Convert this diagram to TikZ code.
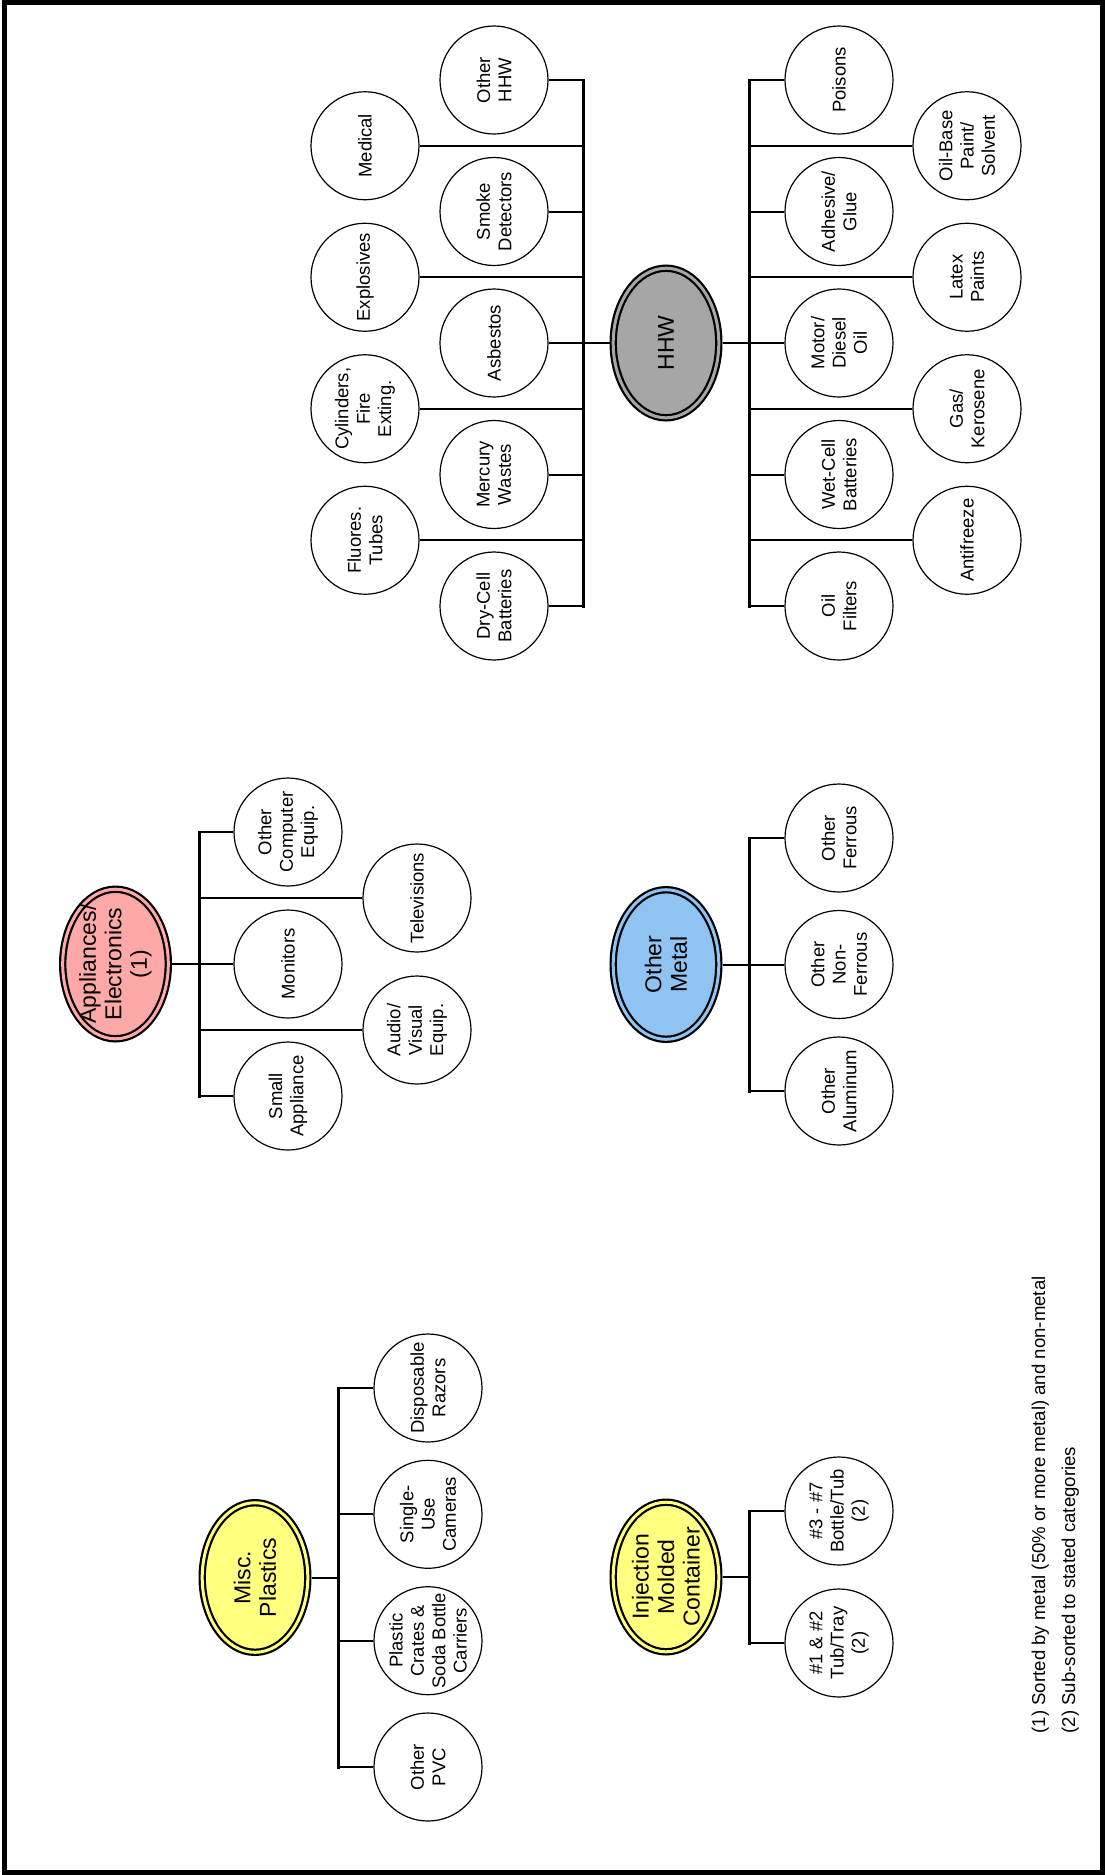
\documentclass[tikz,border=0pt]{standalone}
\usepackage{fontspec}
\setmainfont{Liberation Sans}
\usetikzlibrary{shapes.geometric}

\definecolor{hhwgray}{HTML}{A6A6A6}
\definecolor{apppink}{HTML}{FFA8A8}
\definecolor{metalblue}{HTML}{8EC3F2}
\definecolor{plastyellow}{HTML}{FFFF80}

\begin{document}
\begin{tikzpicture}[x=1pt,y=-1pt,
  item/.style={circle, draw, line width=1.2pt, fill=white, minimum size=108pt,
    inner sep=-20pt, rotate=90, align=center, font=\fontsize{18.5}{21.3}\selectfont},
  catnode/.style={ellipse, draw, line width=2.2pt, double=#1, double distance=3pt,
    fill=#1, minimum width=149.6pt, minimum height=105.6pt, inner sep=-20pt,
    outer sep=3.7pt, rotate=90, align=center, font=\fontsize{23}{25.5}\selectfont},
  branch/.style={line width=2pt},
  trunk/.style={line width=3pt, line cap=rect},
  note/.style={rotate=90, anchor=base west, inner sep=0pt, font=\fontsize{18.6}{22}\selectfont},
]
\useasboundingbox (0,0) rectangle (1105,1875);
\draw[line width=5pt] (4,2.5) rectangle (1102.5,1872.5);

% ---------------- Household hazardous waste ----------------
\node[catnode=hhwgray] (hhw) at (666,343) {HHW};

\node[item] (oth) at (494,80)     {Other\\HHW};
\node[item] (med) at (365,145.75) {Medical};
\node[item] (smk) at (494,211.5)  {Smoke\\Detectors};
\node[item] (exp) at (365,277.25) {Explosives};
\node[item] (asb) at (494,343)    {Asbestos};
\node[item] (cyl) at (365,408.75) {Cylinders,\\Fire\\Exting.};
\node[item] (mer) at (494,474.5)  {Mercury\\Wastes};
\node[item] (flu) at (365,540.25) {Fluores.\\Tubes};
\node[item] (dry) at (494,606)    {Dry-Cell\\Batteries};

\node[item] (poi) at (839,80)     {Poisons};
\node[item] (obp) at (967,145.75) {Oil-Base\\Paint/\\Solvent};
\node[item] (adh) at (839,211.5)  {Adhesive/\\Glue};
\node[item] (lat) at (967,277.25) {Latex\\Paints};
\node[item] (mot) at (839,343)    {Motor/\\Diesel\\Oil};
\node[item] (gas) at (967,408.75) {Gas/\\Kerosene};
\node[item] (wet) at (839,474.5)  {Wet-Cell\\Batteries};
\node[item] (ant) at (967,540.25) {Antifreeze};
\node[item] (oil) at (839,606)    {Oil\\Filters};

\foreach \n/\y in {0/80,1/145.75,2/211.5,3/277.25,4/343,5/408.75,6/474.5,7/540.25,8/606}{
  \coordinate (hL\n) at (583,\y);
  \coordinate (hR\n) at (749,\y);
}
\draw[trunk] (hL0) -- (hL8);
\draw[trunk] (hR0) -- (hR8);
\draw[branch] (hhw) -- (hL4);
\draw[branch] (hhw) -- (hR4);
\foreach \n/\t in {0/oth,1/med,2/smk,3/exp,4/asb,5/cyl,6/mer,7/flu,8/dry}
  \draw[branch] (hL\n) -- (\t);
\foreach \n/\t in {0/poi,1/obp,2/adh,3/lat,4/mot,5/gas,6/wet,7/ant,8/oil}
  \draw[branch] (hR\n) -- (\t);

% ---------------- Appliances / electronics ----------------
\node[catnode=apppink] (app) at (115.5,964) {Appliances/\\Electronics\\(1)};
\node[item] (ocp) at (288,832)  {Other\\Computer\\Equip.};
\node[item] (tv)  at (417,898)  {Televisions};
\node[item] (mon) at (288,964)  {Monitors};
\node[item] (av)  at (417,1030) {Audio/\\Visual\\Equip.};
\node[item] (sma) at (288,1096) {Small\\Appliance};
\foreach \n/\y in {0/832,1/898,2/964,3/1030,4/1096}
  \coordinate (a\n) at (199,\y);
\draw[trunk] (a0) -- (a4);
\draw[branch] (app) -- (a2);
\foreach \n/\t in {0/ocp,1/tv,2/mon,3/av,4/sma}
  \draw[branch] (a\n) -- (\t);

% ---------------- Other metal ----------------
\node[catnode=metalblue] (met) at (666,964.5) {Other\\Metal};
\node[item] (ofe) at (839,838)   {Other\\Ferrous};
\node[item] (onf) at (839,964.5) {Other\\Non-\\Ferrous};
\node[item] (oal) at (839,1091)  {Other\\Aluminum};
\foreach \n/\y in {0/838,1/964.5,2/1091}
  \coordinate (m\n) at (749,\y);
\draw[trunk] (m0) -- (m2);
\draw[branch] (met) -- (m1);
\foreach \n/\t in {0/ofe,1/onf,2/oal}
  \draw[branch] (m\n) -- (\t);

% ---------------- Miscellaneous plastics ----------------
\node[catnode=plastyellow] (msc) at (255,1577.5) {Misc.\\Plastics};
\node[item] (dis) at (428,1388)   {Disposable\\Razors};
\node[item] (sin) at (428,1514.3) {Single-\\Use\\Cameras};
\node[item] (pla) at (428,1640.7) {Plastic\\Crates \&\\Soda Bottle\\Carriers};
\node[item] (pvc) at (428,1767)   {Other\\PVC};
\foreach \n/\y in {0/1388,1/1514.3,2/1640.7,3/1767}
  \coordinate (p\n) at (338,\y);
\coordinate (pc) at (338,1577.5);
\draw[trunk] (p0) -- (p3);
\draw[branch] (msc) -- (pc);
\foreach \n/\t in {0/dis,1/sin,2/pla,3/pvc}
  \draw[branch] (p\n) -- (\t);

% ---------------- Injection molded containers ----------------
\node[catnode=plastyellow] (inj) at (666,1577) {Injection\\Molded\\Container};
\node[item] (t37) at (839,1511) {\#3 - \#7\\Bottle/Tub\\(2)};
\node[item] (t12) at (839,1643) {\#1 \& \#2\\Tub/Tray\\(2)};
\coordinate (i0) at (749,1511);
\coordinate (ic) at (749,1577);
\coordinate (i1) at (749,1643);
\draw[trunk] (i0) -- (i1);
\draw[branch] (inj) -- (ic);
\draw[branch] (i0) -- (t37);
\draw[branch] (i1) -- (t12);

% ---------------- Notes ----------------
\node[note] (n1) at (1045,1733.5) {(1) Sorted by metal (50\% or more metal) and non-metal};
\node[note] (n2) at (1075,1733.5) {(2) Sub-sorted to stated categories};
\end{tikzpicture}
\end{document}
